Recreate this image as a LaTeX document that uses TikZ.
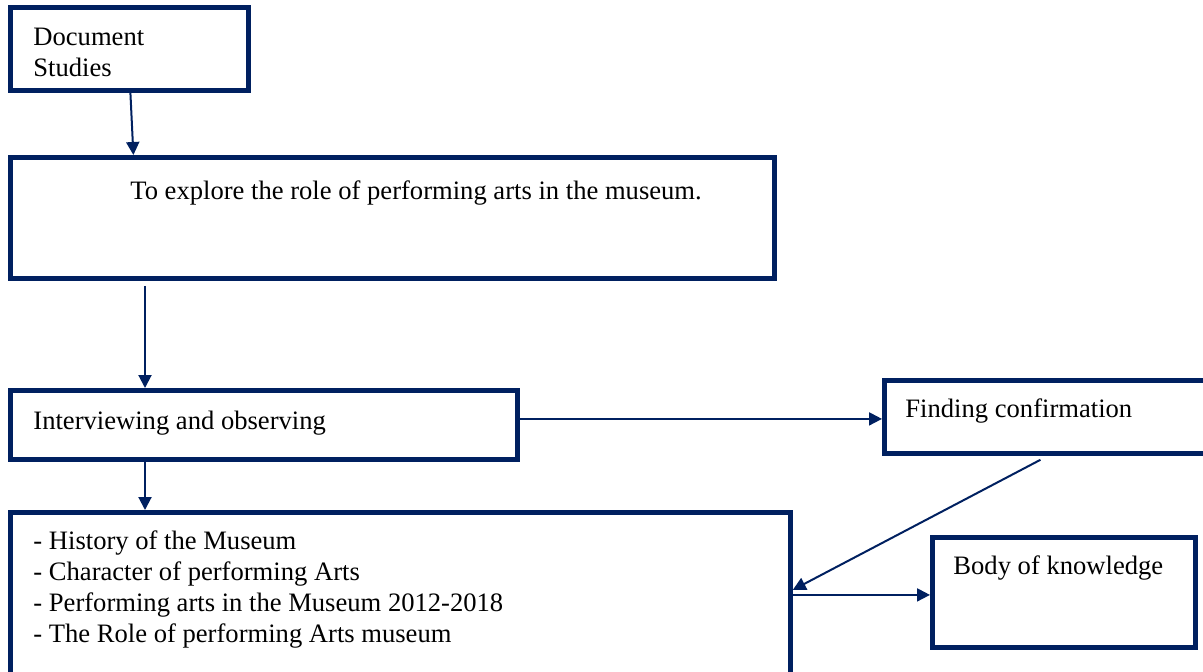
\documentclass[tikz,border=0pt]{standalone}
\usepackage{fontspec}
\setmainfont{Liberation Serif}
\usetikzlibrary{calc}
\usetikzlibrary{arrows.meta}
\definecolor{navy}{HTML}{002060}
\def\BoxLine{2.4pt}
\def\ArrLine{1pt}

\begin{document}
\begin{tikzpicture}[x=0.5pt,y=-0.5pt,
    box/.style={draw=navy, line width=\BoxLine, rectangle, anchor=north west, inner sep=0pt},
    txt/.style={inner sep=0pt, font=\fontsize{13.3}{15.5}\selectfont, align=left},
    arr/.style={draw=navy, line width=\ArrLine, -{Triangle[width=6.5pt,length=6.5pt]}}]
  \useasboundingbox (0,0) rectangle (1203,671);
  % boxes
  \node[box, minimum width=119pt, minimum height=41.5pt] (doc) at (8,5) {};
  \node[box, minimum width=382pt, minimum height=60.5pt] (explore) at (8,155) {};
  \node[box, minimum width=253.5pt, minimum height=34.5pt] (interview) at (8,388) {};
  \node[box, minimum width=163pt, minimum height=36.5pt] (finding) at (882,378) {};
  \node[box, minimum width=390pt, minimum height=81.5pt] (list) at (8,510) {};
  \node[box, minimum width=131.5pt, minimum height=55pt] (body) at (930,535) {};
  % texts
  \node[txt, anchor=north west] (docT) at (33,28) {Document\\Studies};
  \node[txt, anchor=base west] (exploreT) at (130,199)
    {To explore the role of performing arts in the museum.};
  \node[txt, anchor=base west] (interviewT) at (33,429) {Interviewing and observing};
  \node[txt, anchor=base west] (findingT) at (905,417) {Finding confirmation};
  \node[txt, anchor=north west] (listT) at (33,530)
    {- History of the Museum\\
     - Character of performing Arts\\
     - Performing arts in the Museum 2012-2018\\
     - The Role of performing Arts museum};
  \node[txt, anchor=base west] (bodyT) at (953,574) {Body of knowledge};
  % arrows
  \draw[arr] ([xshift=0.5pt]doc.south) -- ([xshift=2pt]doc.south |- explore.north);
  \draw[arr] ([xshift=68.5pt,yshift=-2.5pt]explore.south west)
    -- ([xshift=68.5pt]interview.north west);
  \draw[arr] ([xshift=68.5pt]interview.south west) -- ([xshift=68.5pt]list.north west);
  \draw[arr] ([yshift=3pt]interview.east) -- ([yshift=3pt]interview.east -| finding.west);
  \draw[arr] ([xshift=-3.5pt,yshift=-2pt]finding.south) -- ([yshift=2pt]list.east);
  \draw[arr] ([yshift=-0.5pt]list.east) -- ([yshift=-0.5pt]list.east -| body.west);
\end{tikzpicture}
\end{document}
